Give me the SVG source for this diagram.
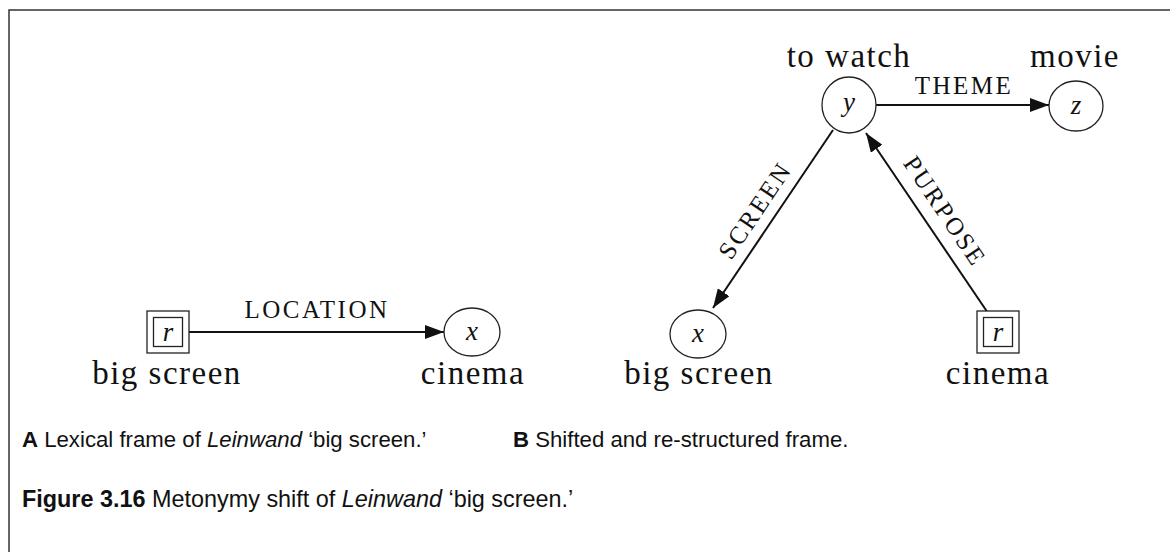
<svg xmlns="http://www.w3.org/2000/svg" width="1170" height="552" viewBox="0 0 1170 552">
  <style>
    .frame { fill: none; stroke: #333; stroke-width: 1.5; }
    .node { fill: #fff; stroke: #222; stroke-width: 1.3; }
    .edge { fill: none; stroke: #111; stroke-width: 2; }
    .lbl { font-family: "Liberation Serif", "Times New Roman", serif; font-size: 33px; letter-spacing: 1.5px; fill: #111; text-anchor: middle; }
    .var { font-family: "Liberation Serif", "Times New Roman", serif; font-style: italic; font-size: 27px; fill: #111; text-anchor: middle; }
    .rel { font-family: "Liberation Serif", "Times New Roman", serif; font-size: 25px; letter-spacing: 2.5px; fill: #111; text-anchor: middle; }
    .cap { font-family: "Liberation Sans", Arial, sans-serif; font-size: 22.2px; fill: #111; }
    .fig { font-size: 23.4px; }
    .b { font-weight: bold; }
    .i { font-style: italic; }
  </style>
  <defs>
    <marker id="arrow" viewBox="0 0 19 14" refX="19" refY="7" markerWidth="19" markerHeight="14" markerUnits="userSpaceOnUse" orient="auto">
      <path d="M0,0 L19,7 L0,14 z" fill="#111"/>
    </marker>
  </defs>

  <!-- page frame -->
  <path class="frame" d="M9,552 V10 H1170"/>

  <!-- connectors -->
  <g id="connectors">
    <line class="edge" x1="189" y1="332" x2="444" y2="332" marker-end="url(#arrow)"/>
    <line class="edge" x1="876" y1="105" x2="1049" y2="105" marker-end="url(#arrow)"/>
    <line class="edge" x1="833" y1="130" x2="713" y2="308" marker-end="url(#arrow)"/>
    <line class="edge" x1="988" y1="313" x2="866" y2="133" marker-end="url(#arrow)"/>
    <text class="rel" x="317" y="318">LOCATION</text>
    <text class="rel" x="964" y="94">THEME</text>
    <text class="rel" transform="translate(762,215) rotate(-56)">SCREEN</text>
    <text class="rel" transform="translate(938,216) rotate(56)">PURPOSE</text>
  </g>

  <!-- frame A -->
  <g id="A-r">
    <rect class="node" x="147" y="311" width="42" height="42"/>
    <rect class="node" x="153.5" y="317.5" width="29" height="29"/>
    <text class="var" x="168" y="341">r</text>
    <text class="lbl" x="167" y="384">big screen</text>
  </g>
  <g id="A-x">
    <ellipse class="node" cx="472" cy="332" rx="28" ry="24"/>
    <text class="var" x="472" y="340">x</text>
    <text class="lbl" x="473" y="384">cinema</text>
  </g>

  <!-- frame B -->
  <g id="B-y">
    <ellipse class="node" cx="849" cy="105" rx="27" ry="28"/>
    <text class="var" x="849" y="111">y</text>
    <text class="lbl" x="849" y="67">to watch</text>
  </g>
  <g id="B-z">
    <ellipse class="node" cx="1076" cy="106" rx="27" ry="25"/>
    <text class="var" x="1076" y="114">z</text>
    <text class="lbl" x="1075" y="67">movie</text>
  </g>
  <g id="B-x">
    <ellipse class="node" cx="698" cy="334" rx="28" ry="24"/>
    <text class="var" x="698" y="342">x</text>
    <text class="lbl" x="699" y="384">big screen</text>
  </g>
  <g id="B-r">
    <rect class="node" x="977" y="311" width="42" height="42"/>
    <rect class="node" x="983.5" y="317.5" width="29" height="29"/>
    <text class="var" x="998" y="341">r</text>
    <text class="lbl" x="998" y="384">cinema</text>
  </g>

  <!-- captions -->
  <g id="captions">
    <text class="cap" x="22" y="447"><tspan class="b">A</tspan> Lexical frame of <tspan class="i">Leinwand</tspan> ‘big screen.’</text>
    <text class="cap" x="513" y="447"><tspan class="b">B</tspan> Shifted and re-structured frame.</text>
    <text class="cap fig" x="22" y="507"><tspan class="b">Figure 3.16</tspan> Metonymy shift of <tspan class="i">Leinwand</tspan> ‘big screen.’</text>
  </g>
</svg>
